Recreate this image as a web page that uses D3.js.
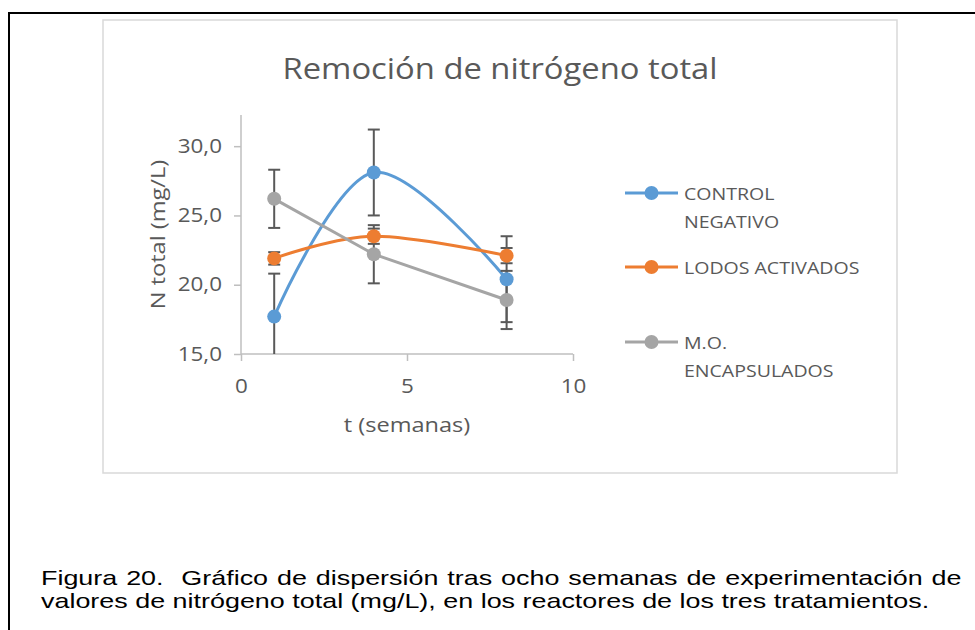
<!DOCTYPE html>
<html>
<head>
<meta charset="utf-8">
<script src="https://cdn.jsdelivr.net/npm/d3@7"></script>
<style>
  body { margin: 0; background: #fff; }
  svg { display: block; }
</style>
</head>
<body>
<div id="chart"></div>
<script>
// data
const weeks = [1, 4, 8];
const seriesNames = ["CONTROL NEGATIVO", "LODOS ACTIVADOS", "M.O. ENCAPSULADOS"];
const controlNegativo = [17.7, 28.1, 20.4];
const lodosActivados = [21.9, 23.5, 22.1];
const moEncapsulados = [26.2, 22.2, 18.9];
const errControl = [3.1, 3.1, 3.1];
const errLodos = [0.45, 0.55, 0.55];
const errMo = [2.1, 2.1, 2.1];
const xTicks = [0, 5, 10];
const yTicks = [15, 20, 25, 30];

const width = 975, height = 630;
const chartFont = "'Open Sans', 'DejaVu Sans', sans-serif";
const axisColor = "#bfbfbf", textColor = "#595959";
const sx = 1.15; // the reference text is a bit wider than it is tall

const svg = d3.select("#chart")
    .append("svg")
    .attr("width", width)
    .attr("height", height);

// outer figure frame (black) and chart area frame (light gray)
svg.append("rect")
    .attr("x", 9).attr("y", 13)
    .attr("width", 980).attr("height", 640)
    .attr("fill", "none").attr("stroke", "#000").attr("stroke-width", 2);

svg.append("rect")
    .attr("x", 103).attr("y", 20)
    .attr("width", 794).attr("height", 453)
    .attr("fill", "#fff").attr("stroke", "#d9d9d9").attr("stroke-width", 1.5);

// scales
let plot = { left: 241, right: 573, top: 115, bottom: 354 };
let x = d3.scaleLinear().domain([0, 10]).range([plot.left, plot.right]);
let y = d3.scaleLinear().domain([15, 32.25]).range([plot.bottom, plot.top]);

// helper: text stretched a little horizontally
function label(parent, tx, ty, txt, size, anchor, extra) {
    let g = parent.append("g")
        .attr("transform", "translate(" + tx + "," + ty + ")" + (extra || "") + " scale(" + sx + ",1)");
    return g.append("text")
        .attr("text-anchor", anchor)
        .style("font-family", chartFont)
        .style("font-size", size + "px")
        .attr("fill", textColor)
        .text(txt);
}

// title
label(svg, 500, 79, "Remoción de nitrógeno total", 28.5, "middle");

// axes
let xAxis = svg.append("g")
    .attr("transform", "translate(0," + plot.bottom + ")")
    .call(d3.axisBottom(x).tickValues(xTicks).tickSize(7));

let yAxis = svg.append("g")
    .attr("transform", "translate(" + plot.left + ",0)")
    .call(d3.axisLeft(y).tickValues(yTicks).tickSize(7)
        .tickFormat(d => d3.format(".1f")(d).replace(".", ",")));

[xAxis, yAxis].forEach(function(a) {
    a.select(".domain").attr("stroke", axisColor).attr("stroke-width", 1.5);
    a.selectAll(".tick line").attr("stroke", axisColor).attr("stroke-width", 1.5);
    a.selectAll(".tick text")
        .attr("fill", textColor)
        .style("font-family", chartFont)
        .style("font-size", "19.5px");
});
xAxis.selectAll(".tick text")
    .attr("y", 0).attr("dy", 0)
    .attr("transform", "translate(0,39) scale(" + sx + ",1)");
yAxis.selectAll(".tick text")
    .attr("x", 0)
    .attr("transform", "translate(-19,0) scale(" + sx + ",1)");

// plain axis lines, no outer ticks
yAxis.select(".domain").attr("d", "M0," + plot.top + "V" + plot.bottom);
xAxis.select(".domain").attr("d", "M" + plot.left + ",0H" + plot.right);

// axis titles
label(svg, x(5), 432, "t (semanas)", 20.5, "middle");
label(svg, 165, (plot.top + plot.bottom) / 2, "N total (mg/L)", 20.5, "middle", " rotate(-90)");

// clip for error bars that run past the axis
svg.append("clipPath").attr("id", "plotclip")
    .append("rect")
    .attr("x", plot.left - 20).attr("y", 0)
    .attr("width", plot.right - plot.left + 40).attr("height", plot.bottom);

let series = [
    { name: seriesNames[0], values: controlNegativo, err: errControl, color: "#5b9bd5", curve: d3.curveCatmullRom.alpha(0) },
    { name: seriesNames[1], values: lodosActivados, err: errLodos, color: "#ed7d31", curve: d3.curveCatmullRom.alpha(0) },
    { name: seriesNames[2], values: moEncapsulados, err: errMo, color: "#a5a5a5", curve: d3.curveLinear }
];

let plotG = svg.append("g").attr("clip-path", "url(#plotclip)");

// lines
series.forEach(function(s) {
    let line = d3.line()
        .x((d, i) => x(weeks[i]))
        .y(d => y(d))
        .curve(s.curve);
    plotG.append("path")
        .datum(s.values)
        .attr("fill", "none")
        .attr("stroke", s.color)
        .attr("stroke-width", 3)
        .attr("d", line);
});

// error bars
series.forEach(function(s) {
    let eb = plotG.append("g").selectAll("g")
        .data(s.values)
        .join("g")
        .attr("stroke", "#595959")
        .attr("stroke-width", 2);
    eb.append("line")
        .attr("x1", (d, i) => x(weeks[i])).attr("x2", (d, i) => x(weeks[i]))
        .attr("y1", (d, i) => y(d - s.err[i])).attr("y2", (d, i) => y(d + s.err[i]));
    eb.append("line")
        .attr("x1", (d, i) => x(weeks[i]) - 6).attr("x2", (d, i) => x(weeks[i]) + 6)
        .attr("y1", (d, i) => y(d + s.err[i])).attr("y2", (d, i) => y(d + s.err[i]));
    eb.append("line")
        .attr("x1", (d, i) => x(weeks[i]) - 6).attr("x2", (d, i) => x(weeks[i]) + 6)
        .attr("y1", (d, i) => y(d - s.err[i])).attr("y2", (d, i) => y(d - s.err[i]));
});

// markers
series.forEach(function(s) {
    plotG.append("g").selectAll("circle")
        .data(s.values)
        .join("circle")
        .attr("cx", (d, i) => x(weeks[i]))
        .attr("cy", d => y(d))
        .attr("r", 7)
        .attr("fill", s.color);
});

// legend
let legendRows = [
    { lines: ["CONTROL", "NEGATIVO"], y: 193 },
    { lines: ["LODOS ACTIVADOS"], y: 267 },
    { lines: ["M.O.", "ENCAPSULADOS"], y: 342 }
];
let legend = svg.append("g");
series.forEach(function(s, i) {
    let row = legend.append("g").attr("transform", "translate(0," + legendRows[i].y + ")");
    row.append("line")
        .attr("x1", 625).attr("x2", 678)
        .attr("stroke", s.color).attr("stroke-width", 3);
    row.append("circle")
        .attr("cx", 651.5).attr("r", 7).attr("fill", s.color);
    legendRows[i].lines.forEach(function(t, j) {
        label(row, 684, 6.5 + j * 28.5, t, 17, "start");
    });
});

// caption, first line justified to the full width like the document
const capSx = 1.3;
let caption = svg.append("g")
    .attr("transform", "translate(41,0) scale(" + capSx + ",1)")
    .style("font-family", "'Liberation Sans', Arial, sans-serif")
    .style("font-size", "20.7px")
    .attr("fill", "#000");
let cap1 = caption.append("text")
    .attr("x", 0).attr("y", 585)
    .text("Figura 20.\u00a0 Gráfico de dispersión tras ocho semanas de experimentación de");
caption.append("text")
    .attr("x", 0).attr("y", 608)
    .text("valores de nitrógeno total (mg/L), en los reactores de los tres tratamientos.");
let natural = cap1.node().getComputedTextLength();
let gaps = cap1.text().split(" ").length - 1;
cap1.attr("word-spacing", (919 / capSx - natural) / gaps);
</script>
</body>
</html>
